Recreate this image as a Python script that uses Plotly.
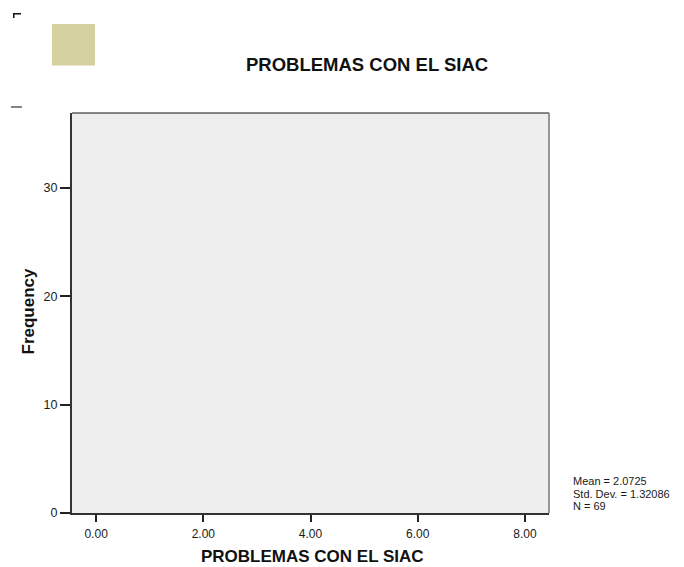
import plotly.graph_objects as go

# Histogram of "PROBLEMAS CON EL SIAC" (summary statistics only)
x_tick_vals = [0, 2, 4, 6, 8]
x_tick_text = ["0.00", "2.00", "4.00", "6.00", "8.00"]
y_tick_vals = [0, 10, 20, 30]
stat_mean = 2.0725
stat_sd = 1.32086
stat_n = 69

W, H = 684, 567
L, R, T, B = 72, 549, 113, 513  # plot area in pixels


def px(xp):
    return (xp - L) / (R - L)


def py(yp):
    return (B - yp) / (B - T)


FONT = "Liberation Sans, Arial, sans-serif"
DARK = "#1a1a1a"

fig = go.Figure()
fig.add_trace(go.Histogram(x=[], marker_color="#D5D19E", showlegend=False))

fig.update_layout(
    width=W,
    height=H,
    margin=dict(l=L, r=W - R, t=T, b=H - B, pad=0),
    paper_bgcolor="white",
    plot_bgcolor="#EEEEEE",
    font=dict(family=FONT, color=DARK, size=12),
    showlegend=False,
)

fig.update_xaxes(
    range=[-0.45, 8.45],
    tickvals=x_tick_vals,
    ticktext=x_tick_text,
    ticks="outside",
    ticklen=7,
    tickwidth=1.5,
    tickcolor="#222222",
    ticklabelstandoff=2,
    showgrid=False,
    zeroline=False,
    showline=True,
    linewidth=2,
    linecolor="#333333",
    tickfont=dict(size=12, family=FONT, color=DARK),
)
fig.update_yaxes(
    range=[0, 36.9],
    tickvals=y_tick_vals,
    ticks="outside",
    ticklen=10,
    tickwidth=1.5,
    tickcolor="#222222",
    showgrid=False,
    zeroline=False,
    showline=True,
    linewidth=2,
    linecolor="#333333",
    tickfont=dict(size=12.5, family=FONT, color=DARK),
)

shapes = [
    # top and right frame of the plot area
    dict(type="line", xref="paper", yref="paper", x0=0, x1=1, y0=1, y1=1,
         line=dict(color="#111111", width=1.2)),
    dict(type="line", xref="paper", yref="paper", x0=1, x1=1, y0=0, y1=1,
         line=dict(color="#777777", width=1.5)),
    # legend swatch
    dict(type="rect", xref="paper", yref="paper", x0=px(52), x1=px(95), y0=py(65.5), y1=py(24),
         fillcolor="#D5D19E", line=dict(width=0)),
    # small corner mark
    dict(type="path", xref="paper", yref="paper",
         path=f"M {px(13)} {py(18)} L {px(13)} {py(13)} L {px(21)} {py(13)} L {px(21)} {py(14.5)} "
              f"L {px(14.5)} {py(14.5)} L {px(14.5)} {py(18)} Z",
         fillcolor="#111111", line=dict(width=0)),
    # short dash
    dict(type="line", xref="paper", yref="paper", x0=px(11), x1=px(22), y0=py(107), y1=py(107),
         line=dict(color="#333333", width=1.2)),
]
fig.update_layout(shapes=shapes)

# chart title
fig.add_annotation(
    text="<b>PROBLEMAS CON EL SIAC</b>",
    xref="paper", yref="paper", x=px(366.5), y=py(65),
    xanchor="center", yanchor="middle", showarrow=False,
    font=dict(size=18.5, family=FONT, color="#111111"),
)
# x-axis title
fig.add_annotation(
    text="<b>PROBLEMAS CON EL SIAC</b>",
    xref="paper", yref="paper", x=px(312), y=py(556.5),
    xanchor="center", yanchor="middle", showarrow=False,
    font=dict(size=17, family=FONT, color="#111111"),
)
# y-axis title
fig.add_annotation(
    text="<b>Frequency</b>",
    xref="paper", yref="paper", x=px(28), y=py(311.5),
    xanchor="center", yanchor="middle", textangle=-90, showarrow=False,
    font=dict(size=17, family=FONT, color="#111111"),
)

# summary statistics block, one line per annotation
stats_lines = [
    f"Mean = {stat_mean}",
    f"Std. Dev. = {stat_sd}",
    f"N = {stat_n}",
]
for i, line in enumerate(stats_lines):
    fig.add_annotation(
        text=line,
        xref="paper", yref="paper", x=px(571.5), y=py(480.5 + 12.5 * i),
        xanchor="left", yanchor="middle", align="left", valign="middle",
        height=11, borderpad=0, showarrow=False,
        font=dict(size=11, family=FONT, color=DARK),
    )

fig.write_html("out.html")
